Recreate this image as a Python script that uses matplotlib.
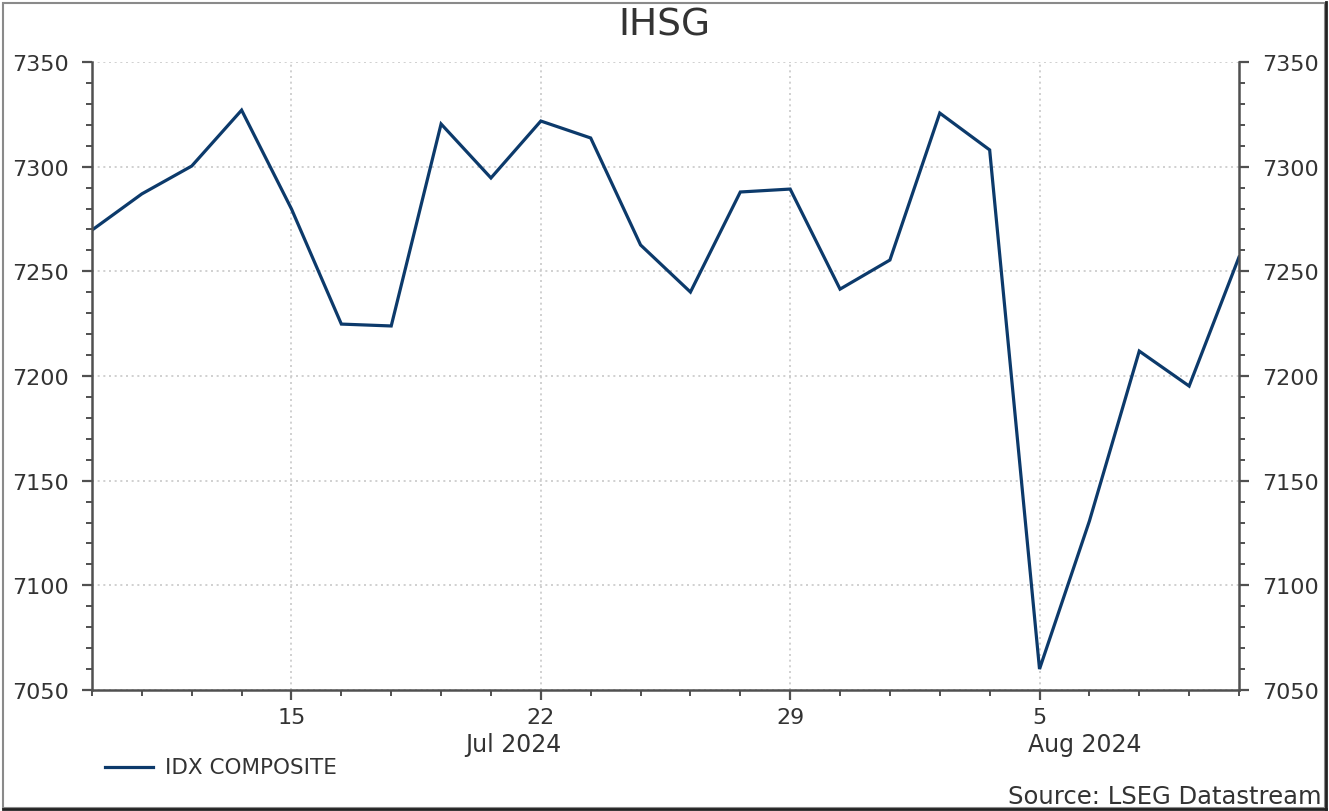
import matplotlib
matplotlib.use("Agg")
import matplotlib.pyplot as plt
import matplotlib.transforms as mtransforms
from matplotlib.ticker import MultipleLocator, FixedLocator
from matplotlib.lines import Line2D
from matplotlib.patches import Rectangle

plt.rcParams['font.family'] = ['DejaVu Sans']

dates = ["Jul 9", "Jul 10", "Jul 11", "Jul 12", "Jul 15", "Jul 16", "Jul 17", "Jul 18",
         "Jul 19", "Jul 22", "Jul 23", "Jul 24", "Jul 25", "Jul 26", "Jul 29", "Jul 30",
         "Jul 31", "Aug 1", "Aug 2", "Aug 5", "Aug 6", "Aug 7", "Aug 8", "Aug 9"]
values = [7269.7, 7287.0, 7300.3, 7327.0, 7279.8, 7224.8, 7223.9, 7320.4,
          7294.6, 7321.8, 7313.7, 7262.6, 7240.1, 7287.9, 7289.3, 7241.5,
          7255.4, 7325.6, 7308.0, 7060.0, 7130.7, 7211.9, 7195.2, 7256.8]
major_labels = {"Jul 15": "15", "Jul 22": "22", "Jul 29": "29", "Aug 5": "5"}
month_labels = ["Jul 2024", "Aug 2024"]
series_name = "IDX COMPOSITE"
title = "IHSG"
source = "Source: LSEG Datastream"

W, H = 1329, 812
fig = plt.figure(figsize=(W / 100, H / 100), dpi=100)
ax = fig.add_axes([92 / W, 1 - 691 / H, (1239 - 92) / W, (691 - 63) / H])

x = list(range(len(dates)))
line_color = "#0c3a6b"
txt = "#333333"
spine_c = "#505050"

ax.plot(x, values, color=line_color, lw=2.3, solid_joinstyle="miter")
ax.set_xlim(0, len(dates) - 1)
ax.set_ylim(7050, 7350)

major_idx = [dates.index(d) for d in major_labels]
ax.xaxis.set_major_locator(FixedLocator(major_idx))
ax.set_xticklabels([major_labels[dates[i]] for i in major_idx])
ax.xaxis.set_minor_locator(FixedLocator(x))
ax.yaxis.set_major_locator(MultipleLocator(50))
ax.yaxis.set_minor_locator(MultipleLocator(10))

ax.tick_params(axis="both", which="major", direction="out", length=7, width=1.6,
               color=spine_c, labelsize=16, labelcolor=txt, pad=4)
ax.tick_params(axis="both", which="minor", direction="out", length=4, width=1.4, color=spine_c)
ax.tick_params(axis="y", which="both", left=True, right=True, labelleft=True, labelright=True)
ax.tick_params(axis="y", which="major", pad=9.5)
ax.tick_params(axis="x", which="major", pad=5)

ax.spines["top"].set_visible(False)
for s in ["left", "right", "bottom"]:
    ax.spines[s].set_color(spine_c)
    ax.spines[s].set_linewidth(1.8)

ax.grid(True, which="major", color="#c8c8c8", linestyle=(0, (1.2, 2.2)), lw=1.2)

# month labels centred on the month spans
blend = mtransforms.blended_transform_factory(ax.transData, fig.transFigure)
for lab, pos in zip(month_labels, [8.45, 19.9]):
    ax.text(pos, 1 - 745 / H, lab, transform=blend,
            ha="center", va="center", fontsize=17, color=txt)

fig.text(0.5, 1 - 26 / H, title, ha="center", va="center", fontsize=27, color=txt)

# legend
fig.add_artist(Line2D([105 / W, 153 / W], [1 - 768 / H, 1 - 768 / H], color=line_color, lw=2.3))
fig.text(165 / W, 1 - 768 / H, series_name, ha="left", va="center", fontsize=15.5, color=txt)

fig.text(1321 / W, 1 - 797 / H, source, ha="right", va="center", fontsize=17.5, color=txt)

# outer frame
fig.add_artist(Rectangle((3 / W, 3 / H), (W - 7) / W, (H - 7) / H, transform=fig.transFigure,
                         fill=False, edgecolor="#8a8a8a", lw=1.5))
fig.add_artist(Line2D([3 / W, (W - 3) / W], [2 / H, 2 / H], color="#222222", lw=2))
fig.add_artist(Line2D([(W - 3) / W, (W - 3) / W], [2 / H, (H - 3) / H], color="#222222", lw=2))

fig.savefig("out.png", dpi=100, facecolor="white")
